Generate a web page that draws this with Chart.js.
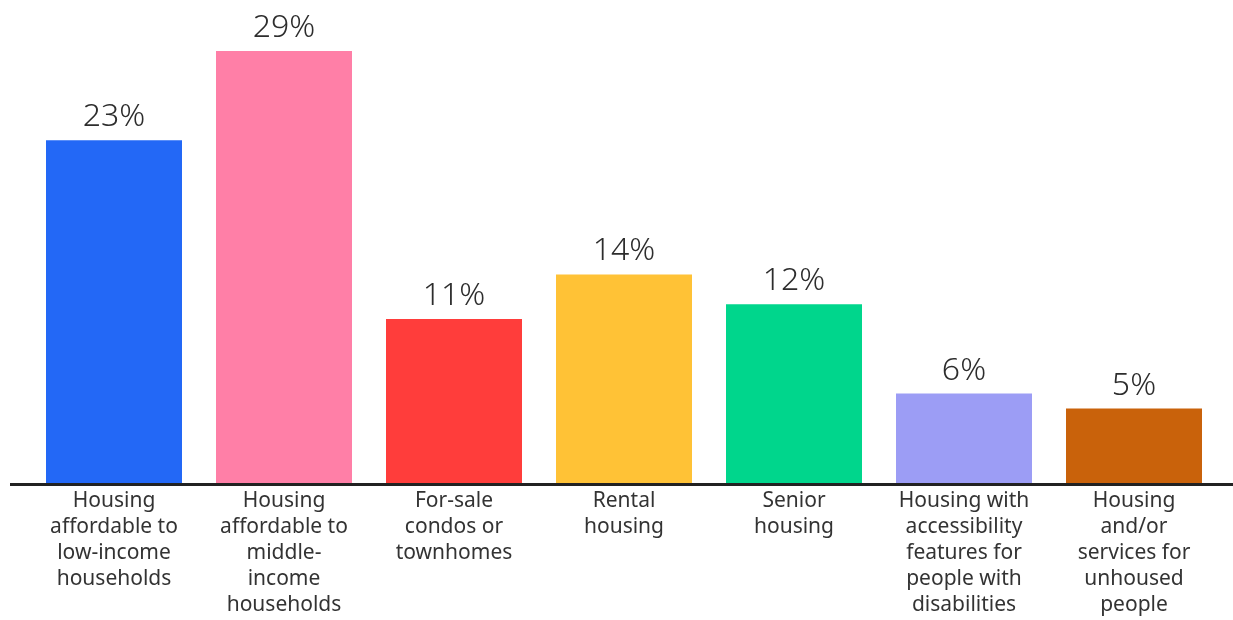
<!DOCTYPE html>
<html>
<head>
<meta charset="utf-8">
<script src="https://cdn.jsdelivr.net/npm/chart.js@4"></script>
<style>
    html, body { margin: 0; padding: 0; background: #fff; }
    #chart { display: block; }
</style>
</head>
<body>
<canvas id="chart" width="1233" height="620"></canvas>
<script>
const categories = [
    ["Housing", "affordable to", "low-income", "households"],
    ["Housing", "affordable to", "middle-", "income", "households"],
    ["For-sale", "condos or", "townhomes"],
    ["Rental", "housing"],
    ["Senior", "housing"],
    ["Housing with", "accessibility", "features for", "people with", "disabilities"],
    ["Housing", "and/or", "services for", "unhoused", "people"]
];
const shares = [23, 29, 11, 14, 12, 6, 5];
const barColors = ["#2368f6", "#ff7fa7", "#ff3d3b", "#ffc236", "#00d68c", "#9c9df5", "#c9620b"];

const fontFamily = '"Noto Sans", "DejaVu Sans", sans-serif';

// value labels above each bar + long baseline
const barLabels = {
    id: 'barLabels',
    afterDatasetsDraw(chart) {
        const ctx = chart.ctx;
        const meta = chart.getDatasetMeta(0);
        ctx.save();
        ctx.fillStyle = '#2d2d2d';
        ctx.font = '300 32px ' + fontFamily;
        ctx.textAlign = 'center';
        ctx.textBaseline = 'alphabetic';
        meta.data.forEach((bar, i) => {
            ctx.fillText(shares[i] + '%', bar.x, bar.y - 14);
        });
        // baseline runs past the plot area
        const y = chart.scales.y.getPixelForValue(0);
        ctx.strokeStyle = '#222';
        ctx.lineWidth = 3;
        ctx.beginPath();
        ctx.moveTo(10, y + 1.5);
        ctx.lineTo(chart.width, y + 1.5);
        ctx.stroke();
        ctx.restore();
    }
};

new Chart(document.getElementById('chart').getContext('2d'), {
    type: 'bar',
    data: {
        labels: categories,
        datasets: [{
            data: shares,
            backgroundColor: barColors,
            borderWidth: 0,
            categoryPercentage: 0.8,
            barPercentage: 1
        }]
    },
    options: {
        responsive: false,
        animation: false,
        layout: { padding: { left: 29, right: 14, top: 36, bottom: 0 } },
        plugins: {
            legend: { display: false },
            tooltip: { enabled: false }
        },
        scales: {
            x: {
                grid: { display: false, drawTicks: false },
                border: { display: false },
                ticks: {
                    color: '#333',
                    padding: 5,
                    autoSkip: false,
                    maxRotation: 0,
                    font: { family: fontFamily, size: 21, lineHeight: '26px' }
                },
                afterFit: scale => { scale.height = 137; }
            },
            y: {
                display: false,
                min: 0,
                max: 30
            }
        }
    },
    plugins: [barLabels]
});
</script>
</body>
</html>
